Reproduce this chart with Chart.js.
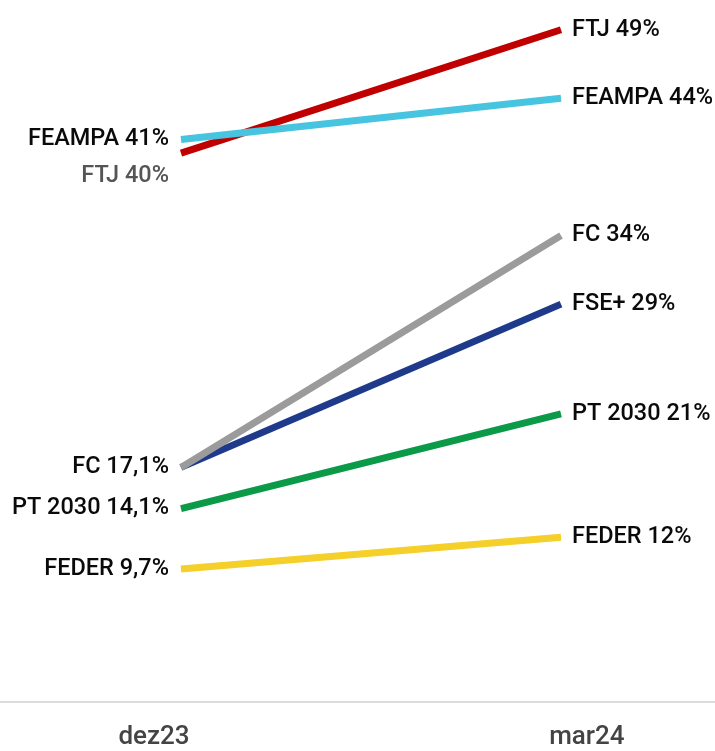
<!DOCTYPE html>
<html lang="pt">
<head>
  <meta charset="UTF-8" />
  <title>Execução dos fundos</title>
  <script src="https://cdn.jsdelivr.net/npm/chart.js"></script>
  <style>
    body { margin: 0; background: #fff; }
    #chart { display: block; }
  </style>
</head>
<body>
<canvas id="chart" width="715" height="751"></canvas>
<script>
  const periods = ['dez23', 'mar24'];
  const funds = ['FEAMPA', 'FTJ', 'FC', 'FSE+', 'PT 2030', 'FEDER'];
  const dez23 = [41, 40, 17.1, 17.1, 14.1, 9.7];
  const mar24 = [44, 49, 34, 29, 21, 12];
  const colors = ['#47c5e0', '#c00000', '#9b9b9b', '#1f3a8a', '#0b9a48', '#f5cf2a'];

  // where the period labels sit on the x axis (lines run from 0 to 1)
  const periodTicks = [-0.071, 1.068];

  const fmt = v => v.toLocaleString('pt-PT') + '%';

  const endLabels = {
    id: 'endLabels',
    afterDatasetsDraw(chart, args, opts) {
      const ctx = chart.ctx;
      ctx.save();
      ctx.font = '500 23.5px Roboto';
      ctx.textBaseline = 'middle';
      chart.data.datasets.forEach((ds, i) => {
        const meta = chart.getDatasetMeta(i);
        const [p0, p1] = meta.data;
        const nudge = opts.nudge[ds.label] || 0;
        if (!opts.hideLeft.includes(ds.label)) {
          ctx.fillStyle = opts.muted.includes(ds.label) ? '#555' : '#0a0a0a';
          ctx.textAlign = 'right';
          ctx.fillText(ds.label + ' ' + fmt(ds.data[0].y), p0.x - 12, p0.y + nudge);
        }
        ctx.fillStyle = '#0a0a0a';
        ctx.textAlign = 'left';
        ctx.fillText(ds.label + ' ' + fmt(ds.data[1].y), p1.x + 11, p1.y);
      });
      ctx.restore();
    }
  };

  new Chart(document.getElementById('chart'), {
    type: 'line',
    data: {
      datasets: funds.map((f, i) => ({
        label: f,
        data: [{ x: 0, y: dez23[i] }, { x: 1, y: mar24[i] }],
        borderColor: colors[i],
        borderWidth: 7,
        borderCapStyle: 'butt',
        pointRadius: 0,
        fill: false
      }))
    },
    options: {
      responsive: false,
      devicePixelRatio: 1,
      animation: false,
      layout: { padding: { top: 16 } },
      plugins: {
        legend: { display: false },
        tooltip: { enabled: false },
        endLabels: {
          nudge: { 'FTJ': 23 },
          hideLeft: ['FSE+'],
          muted: ['FTJ']
        }
      },
      scales: {
        x: {
          type: 'linear',
          min: -181 / 380,
          max: 534 / 380,
          grid: { display: false, drawTicks: false },
          border: { display: true, color: '#dcdcdc', width: 2 },
          afterBuildTicks: axis => { axis.ticks = periodTicks.map(v => ({ value: v })); },
          afterFit: axis => { axis.height = 49; },
          ticks: {
            padding: 20,
            color: '#444',
            font: { family: 'Roboto', size: 26, weight: '500' },
            callback: (v, i) => periods[i]
          }
        },
        y: {
          display: false,
          min: 0,
          max: 50
        }
      }
    },
    plugins: [endLabels]
  });
</script>
</body>
</html>
